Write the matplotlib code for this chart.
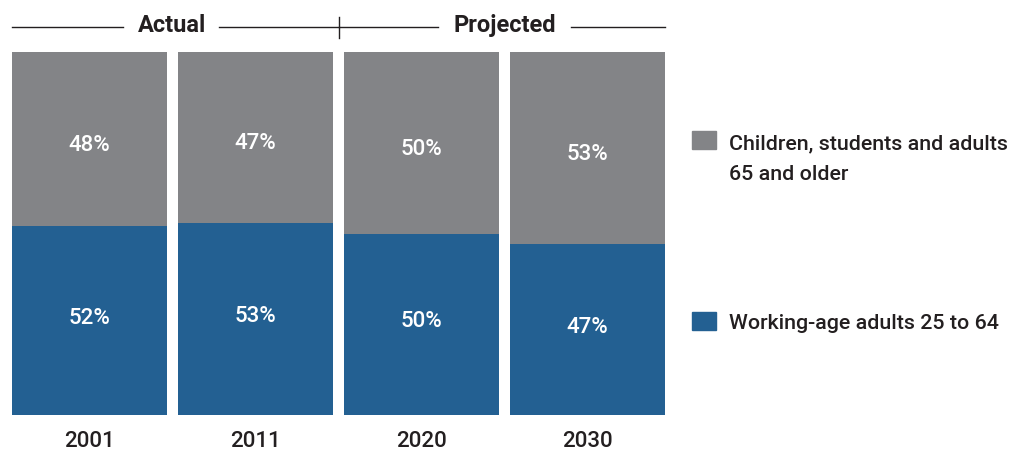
import matplotlib
matplotlib.use("Agg")
import matplotlib.pyplot as plt
import matplotlib.transforms as mtransforms
from matplotlib.patches import Rectangle

plt.rcParams['font.family'] = ['Roboto', 'Liberation Sans', 'DejaVu Sans']

years = ["2001", "2011", "2020", "2030"]
working_age = [52, 53, 50, 47]
dependents = [48, 47, 50, 53]
legend_labels = ["Children, students and adults", "65 and older", "Working-age adults 25 to 64"]
header_labels = ["Actual", "Projected"]

gray = "#838487"
blue = "#236092"
text_dark = "#231f20"

W, H = 1015, 453
fig = plt.figure(figsize=(W / 100, H / 100), dpi=100)
ax = fig.add_axes([12 / W, 38 / H, 653 / W, 363 / H])

x = list(range(len(years)))
width = 0.934
ax.bar(x, working_age, width=width, color=blue)
ax.bar(x, dependents, width=width, bottom=working_age, color=gray)

for xi, w, d in zip(x, working_age, dependents):
    ax.text(xi, w / 2 - 0.8, f"{w}%", ha="center", va="baseline", color="white",
            fontsize=16, fontweight="medium")
    ax.text(xi, w + d / 2 - 3.3, f"{d}%", ha="center", va="baseline", color="white",
            fontsize=16, fontweight="medium")
    ax.text(xi, -8.8, years[xi], ha="center", va="baseline", color=text_dark,
            fontsize=16, fontweight="medium")

ax.set_xlim(-0.467, 3.467)
ax.set_ylim(0, 100)
ax.axis("off")

# header: Actual | Projected
trans = mtransforms.blended_transform_factory(ax.transData, ax.transAxes)
for x0, x1 in [(-0.467, 0.2), (0.78, 1.5), (1.5, 2.1), (2.9, 3.467)]:
    ax.plot([x0, x1], [1.0675, 1.0675], color=text_dark, lw=1, transform=trans, clip_on=False)
ax.plot([1.5, 1.5], [1.0386, 1.0964], color=text_dark, lw=1, transform=trans, clip_on=False)
ax.text(0.5, 1.055, header_labels[0], ha="center", va="baseline", fontsize=17,
        fontweight="bold", color=text_dark, transform=trans)
ax.text(2.5, 1.055, header_labels[1], ha="center", va="baseline", fontsize=17,
        fontweight="bold", color=text_dark, transform=trans)

# legend
for color, ytop in [(gray, 131), (blue, 312)]:
    fig.patches.append(Rectangle((692 / W, (H - ytop - 18) / H), 24 / W, 18 / H,
                                 color=color, transform=fig.transFigure))
for label, ybase in zip(legend_labels, [149, 180, 329]):
    fig.text(729 / W, (H - ybase) / H, label, ha="left", va="baseline",
             fontsize=15.4, fontweight="medium", color=text_dark)

fig.savefig("out.png", dpi=100)
